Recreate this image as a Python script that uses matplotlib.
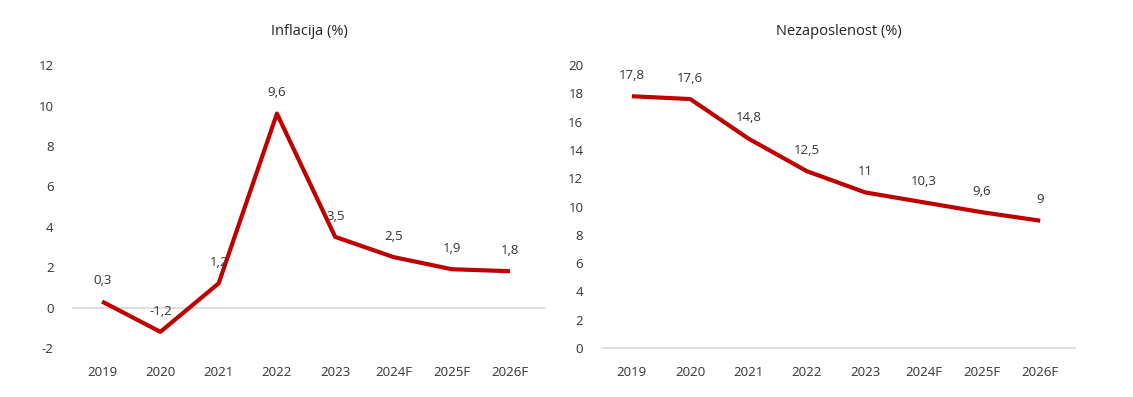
import matplotlib.pyplot as plt
import numpy as np

# podaci
godine = ["2019", "2020", "2021", "2022", "2023", "2024F", "2025F", "2026F"]
inflacija = [0.3, -1.2, 1.2, 9.6, 3.5, 2.5, 1.9, 1.8]
nezaposlenost = [17.8, 17.6, 14.8, 12.5, 11, 10.3, 9.6, 9]

plt.rcParams['font.family'] = ['Open Sans', 'DejaVu Sans']
boja = "#C00000"
siva = "#333333"


def fmt(v):
    s = ("%g" % v).replace(".", ",")
    return s


def crtaj(ax, vrijednosti, naslov, ylim, yticks):
    x = np.arange(len(godine))
    ax.plot(x, vrijednosti, color=boja, lw=3, solid_capstyle="butt")
    for xi, v in zip(x, vrijednosti):
        ax.annotate(fmt(v), (xi, v), xytext=(0, 15), textcoords="offset points",
                    ha="center", va="center", fontsize=9.5, color=siva)
    ax.axhline(0, color="#d9d9d9", lw=1.2, zorder=0, clip_on=False)
    ax.set_xlim(-0.5, 7.6)
    ax.set_ylim(*ylim)
    ax.set_yticks(yticks)
    ax.set_yticklabels([str(t) for t in yticks])
    ax.set_xticks(x)
    ax.set_xticklabels(godine)
    ax.tick_params(length=0, labelsize=9.5, labelcolor=siva)
    ax.tick_params(axis="x", pad=13)
    ax.tick_params(axis="y", pad=14)
    for s in ax.spines.values():
        s.set_visible(False)
    ax.set_title(naslov, fontsize=10.5, color="#222222", pad=22)


fig = plt.figure(figsize=(11.33, 3.97), dpi=100)
ax1 = fig.add_axes([0.0644, 0.1234, 0.4166, 0.7126])
ax2 = fig.add_axes([0.532, 0.1234, 0.417, 0.7126])

crtaj(ax1, inflacija, "Inflacija (%)", (-2, 12), list(range(-2, 13, 2)))
crtaj(ax2, nezaposlenost, "Nezaposlenost (%)", (0, 20), list(range(0, 21, 2)))

plt.savefig("out.png", dpi=100)
